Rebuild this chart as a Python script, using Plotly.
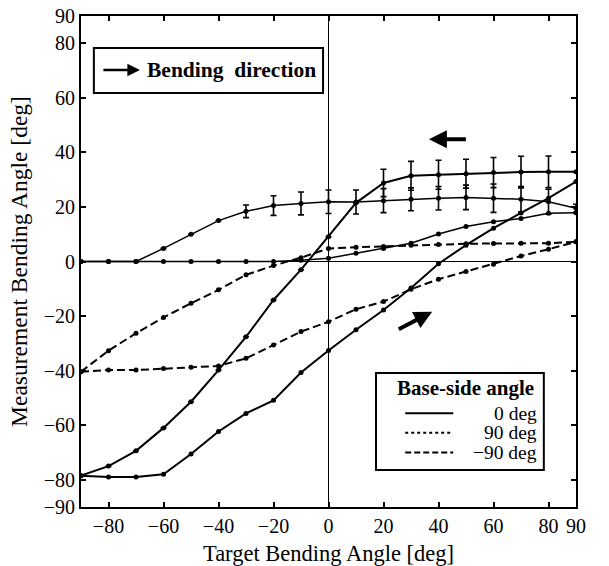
import plotly.graph_objects as go

# ---------------- data ----------------
target = [-90, -80, -70, -60, -50, -40, -30, -20, -10, 0, 10, 20, 30, 40, 50, 60, 70, 80, 90]

# Base-side angle 0 deg
zero_dec = [-78.5, -75.0, -69.4, -61.0, -51.4, -39.8, -27.6, -14.1, -3.0, 9.1, 21.5, 28.8, 31.4, 31.8, 32.2, 32.6, 32.8, 32.9, 32.9]
zero_dec_err = [0, 0, 0, 0, 0, 0, 0, 0, 0, 0, 0, 5.0, 5.3, 5.3, 5.3, 5.5, 5.8, 5.8, 0]
zero_inc = [-78.5, -79.0, -79.0, -78.0, -70.6, -62.3, -55.7, -50.9, -40.7, -32.6, -25.0, -17.8, -9.7, -0.8, 6.0, 12.2, 17.8, 23.2, 29.3]

# Base-side angle 90 deg
ninety_dec = [0.0, 0.0, 0.0, 4.8, 10.0, 15.0, 18.4, 20.5, 21.3, 21.9, 21.8, 22.3, 22.8, 23.2, 23.5, 23.2, 22.8, 21.9, 19.5]
ninety_dec_err = [0, 0, 0, 0, 0, 0, 2.3, 3.6, 4.2, 4.3, 4.4, 4.4, 4.2, 4.3, 4.5, 5.2, 4.7, 4.6, 1.5]
ninety_inc = [0.0, 0.0, 0.0, 0.0, 0.0, 0.0, 0.0, 0.0, 0.5, 1.2, 3.0, 4.8, 6.7, 10.1, 12.8, 14.6, 15.8, 17.7, 17.9]

# Base-side angle -90 deg
minus_dec = [-40.4, -32.7, -26.3, -20.5, -15.3, -10.4, -4.9, -1.5, 1.4, 4.8, 5.2, 5.5, 6.0, 6.2, 6.5, 6.6, 6.7, 6.7, 7.2]
minus_inc = [-40.4, -39.8, -39.8, -39.2, -38.8, -38.3, -35.5, -30.6, -25.7, -22.1, -17.5, -14.7, -10.2, -6.5, -3.7, -1.0, 2.0, 4.5, 7.2]

x_ticks = [-80, -60, -40, -20, 0, 20, 40, 60, 80, 90]
x_ticktext = ["\u221280", "\u221260", "\u221240", "\u221220", "0", "20", "40", "60", "80", "90"]
y_ticks = [-90, -80, -60, -40, -20, 0, 20, 40, 60, 80, 90]
y_ticktext = ["\u221290", "\u221280", "\u221260", "\u221240", "\u221220", "0", "20", "40", "60", "80", "90"]

legend_title = "Base-side angle"
legend_names = ["0 deg", "90 deg", "\u221290 deg"]

FONT = "Liberation Serif"
BLACK = "black"
DASH_M90 = "8px,4px"

fig = go.Figure()

def add_branch(y, dash, width, err=None):
    kw = {}
    if err is not None:
        kw["error_y"] = dict(type="data", array=err, symmetric=True, visible=True,
                             color=BLACK, thickness=1.6, width=3)
    fig.add_trace(go.Scatter(
        x=target, y=y, mode="lines+markers",
        line=dict(color=BLACK, width=width, dash=dash),
        marker=dict(color=BLACK, size=5),
        showlegend=False, hoverinfo="skip", **kw))

# 0 deg
add_branch(zero_dec, "solid", 2.0, zero_dec_err)
add_branch(zero_inc, "solid", 2.0)
# 90 deg
add_branch(ninety_dec, "solid", 1.5, ninety_dec_err)
add_branch(ninety_inc, "solid", 1.5)
# -90 deg
add_branch(minus_dec, DASH_M90, 2.0)
add_branch(minus_inc, DASH_M90, 2.0)

# direction arrows in the plot
fig.add_annotation(x=36.5, y=44.8, ax=50.5, ay=44.8, xref="x", yref="y", axref="x", ayref="y",
                   showarrow=True, arrowhead=2, arrowsize=0.9, arrowwidth=4, arrowcolor=BLACK, text="")
fig.add_annotation(x=37.7, y=-18.4, ax=25.0, ay=-25.1, xref="x", yref="y", axref="x", ayref="y",
                   showarrow=True, arrowhead=2, arrowsize=0.9, arrowwidth=4, arrowcolor=BLACK, text="")

# "Bending direction" box
fig.add_shape(type="rect", xref="paper", yref="paper", x0=0.026, x1=0.489, y0=0.843, y1=0.935,
              line=dict(color=BLACK, width=2), fillcolor="white", layer="above")
fig.add_annotation(x=0.119, y=0.890, xref="paper", yref="paper", ax=-38, ay=0,
                   showarrow=True, arrowhead=2, arrowsize=1, arrowwidth=2.5, arrowcolor=BLACK, text="")
fig.add_annotation(x=0.129, y=0.890, xref="paper", yref="paper", xanchor="left", yanchor="middle",
                   showarrow=False, text="<b>Bending  direction</b>",
                   font=dict(family=FONT, size=21.5, color=BLACK))

# ---- legend box (Base-side angle) ----
lx0, lx1, ly0, ly1 = 0.596, 0.935, 0.0754, 0.273
fig.add_shape(type="rect", xref="paper", yref="paper", x0=lx0, x1=lx1, y0=ly0, y1=ly1,
              line=dict(color=BLACK, width=2), fillcolor="white", layer="above")
fig.add_annotation(x=0.776, y=0.243, xref="paper", yref="paper", xanchor="center", yanchor="middle",
                   showarrow=False, text="<b>" + legend_title + "</b>",
                   font=dict(family=FONT, size=21, color=BLACK))
row_y = [0.191, 0.151, 0.111]
row_dash = ["solid", "dot", "6px,3px"]
for name, ry, dsh in zip(legend_names, row_y, row_dash):
    fig.add_shape(type="line", xref="paper", yref="paper", x0=0.655, x1=0.752, y0=ry, y1=ry,
                  line=dict(color=BLACK, width=2, dash=dsh), layer="above")
    fig.add_annotation(x=0.925, y=ry, xref="paper", yref="paper", xanchor="right", yanchor="middle",
                       showarrow=False, text=name, font=dict(family=FONT, size=19.5, color=BLACK))

fig.update_layout(
    width=609, height=566,
    margin=dict(l=81, r=33, t=16, b=59),
    paper_bgcolor="white", plot_bgcolor="white",
    font=dict(family=FONT, size=20, color=BLACK),
    showlegend=False,
    xaxis=dict(
        range=[-90, 90], tickmode="array", tickvals=x_ticks, ticktext=x_ticktext,
        ticks="inside", ticklen=5, tickwidth=2, tickcolor=BLACK,
        showline=True, linecolor=BLACK, linewidth=2, mirror="ticks",
        showgrid=False, zeroline=True, zerolinecolor=BLACK, zerolinewidth=1.2,
        automargin=False, ticklabeloverflow="allow",
        tickfont=dict(family=FONT, size=20, color=BLACK),
        title=dict(text="Target Bending Angle [deg]", standoff=9,
                   font=dict(family=FONT, size=22.5, color=BLACK)),
    ),
    yaxis=dict(
        range=[-90, 90], tickmode="array", tickvals=y_ticks, ticktext=y_ticktext,
        ticks="inside", ticklen=5, tickwidth=2, tickcolor=BLACK,
        showline=True, linecolor=BLACK, linewidth=2, mirror="ticks",
        showgrid=False, zeroline=True, zerolinecolor=BLACK, zerolinewidth=1.2,
        automargin=False, ticklabeloverflow="allow",
        tickfont=dict(family=FONT, size=20, color=BLACK),
        title=dict(text="Measurement Bending Angle [deg]", standoff=9,
                   font=dict(family=FONT, size=23.5, color=BLACK)),
    ),
)

# remove the page's default 8px body margin so the figure fills the window exactly
fig.write_html("out.html", config={"displayModeBar": False},
               post_script="document.body.style.margin='0';")
